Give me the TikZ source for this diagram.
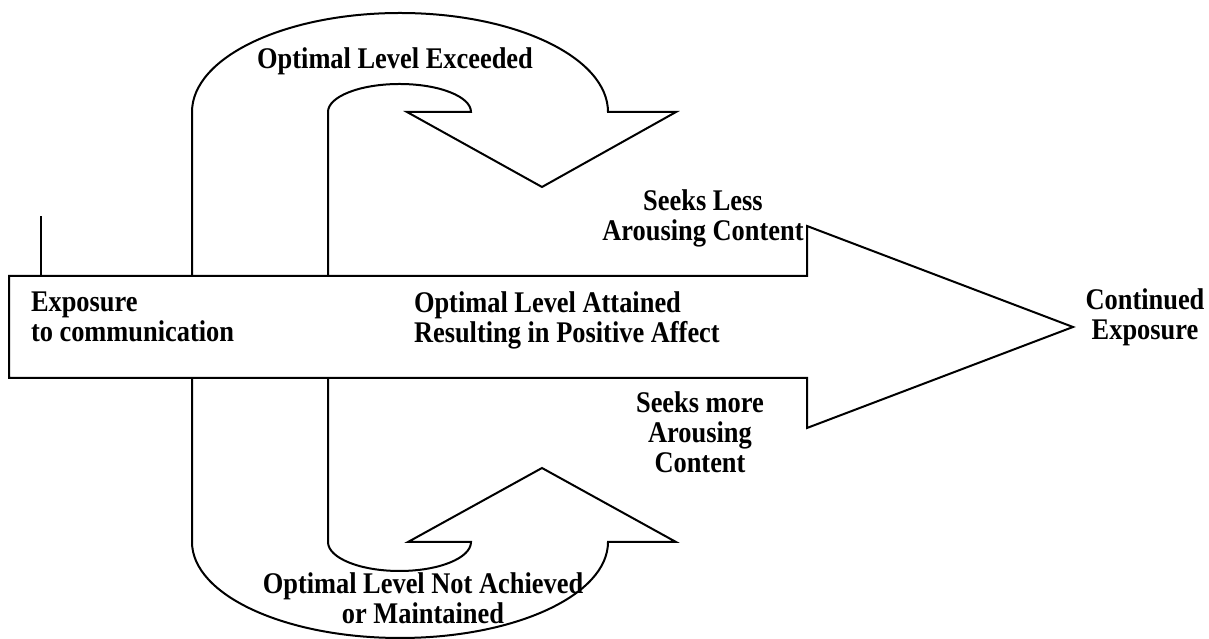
\documentclass[tikz,border=0pt]{standalone}
\usepackage{fontspec}
\setmainfont{Liberation Serif}[FakeStretch=0.88]
\begin{document}
\begin{tikzpicture}[x=0.4pt, y=0.4pt, line width=0.8pt,
  lbl/.style={font=\bfseries\fontsize{12}{12}\selectfont, inner sep=0pt, align=center}]
  \useasboundingbox (0,0) rectangle (1209,639);

  % Main arrow
  \draw (9,261) -- (9,363) -- (807,363) -- (807,413) -- (1073,312) -- (807,211) -- (807,261) -- cycle;
  \draw (41,363) -- (41,423);

  % Upper turn
  \draw (192,363) -- (192,527) arc[start angle=180, end angle=0, x radius=208, y radius=99]
    -- (676,527) -- (542,452) -- (407,527) -- (471,527)
    arc[start angle=0, end angle=180, x radius=71.5, y radius=28] -- (328,363);

  % Lower turn
  \draw (192,261) -- (192,97) arc[start angle=180, end angle=360, x radius=208, y radius=96]
    -- (676,97) -- (542,171) -- (408,97) -- (471,97)
    arc[start angle=360, end angle=180, x radius=71.5, y radius=29] -- (328,261);

  % Labels
  \node[lbl, align=left, anchor=west] (expo) at (30,322) {Exposure\\to communication};
  \node[lbl, align=left, anchor=west] (attain) at (413,318.5) {Optimal Level Attained\\Resulting in Positive Affect};
  \node[lbl] (cont) at (1145,321.5) {Continued\\Exposure};
  \node[lbl] (less) at (703,421) {Seeks Less\\Arousing Content};
  \node[lbl] (more) at (700,207) {Seeks more\\Arousing\\Content};
  \node[lbl] (exceed) at (395,578) {Optimal Level Exceeded};
  \node[lbl] (notach) at (423,41) {Optimal Level Not Achieved\\or Maintained};
\end{tikzpicture}
\end{document}
